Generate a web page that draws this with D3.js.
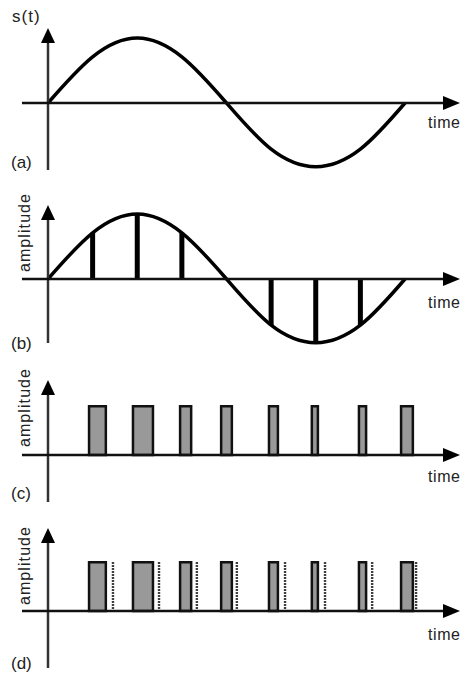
<html lang="en">
<head>
<meta charset="UTF-8">
<title>Sampling</title>
<style>
  body { margin: 0; background: #fff; }
  svg text { font-family: "Liberation Sans", Arial, sans-serif; fill: #222; }
</style>
</head>
<body>
<svg id="chart" width="465" height="675"></svg>
<script src="https://cdnjs.cloudflare.com/ajax/libs/d3/7.8.5/d3.min.js"></script>
<script>
// signal, one value per eighth of a period
var sampleTimes = [0, 0.125, 0.25, 0.375, 0.5, 0.625, 0.75, 0.875, 1];
var signalValues = [0, 0.71, 1, 0.71, 0, -0.71, -0.98, -0.71, 0];

// pulse trains (c) and (d): start / end time and level
var pulseStart = [0.115, 0.238, 0.370, 0.485, 0.619, 0.739, 0.871, 0.989];
var pulseEnd   = [0.162, 0.294, 0.401, 0.515, 0.644, 0.756, 0.891, 1.022];
var pulseLevel = [0.75, 0.75, 0.75, 0.75, 0.75, 0.75, 0.75, 0.75];
// dotted markers in (d)
var markerTime = [0.182, 0.311, 0.417, 0.529, 0.664, 0.776, 0.908, 1.031];

var panelLabels = ["(a)", "(b)", "(c)", "(d)"];
var yTitles = ["s(t)", "amplitude", "amplitude", "amplitude"];
var xTitle = "time";

var svg = d3.select("#chart");
var x = d3.scaleLinear().domain([0, 1]).range([48, 405]);

// layout of the four panels
var panels = [
    { zero: 103, top: 28,  bottom: 170, timeY: 128, labelY: 168 },
    { zero: 279, top: 205, bottom: 343, timeY: 308, labelY: 349 },
    { zero: 455, top: 380, bottom: 502, timeY: 482, labelY: 499 },
    { zero: 611, top: 528, bottom: 668, timeY: 640, labelY: 669 }
];

var pts = sampleTimes.map(function(t, i) { return { t: t, v: signalValues[i] }; });
var pulses = pulseStart.map(function(s, i) { return { s: s, e: pulseEnd[i], v: pulseLevel[i] }; });

panels.forEach(function(p, idx) {
    var y = d3.scaleLinear().domain([-1, 1]).range([p.zero + 65, p.zero - 65]);
    var g = svg.append("g");

    // content first, axes drawn over it
    if (idx < 2) {
        var line = d3.line()
            .x(function(d) { return x(d.t); })
            .y(function(d) { return y(d.v); })
            .curve(d3.curveNatural);
        if (idx == 1) {
            g.selectAll(".stem")
                .data(pts.filter(function(d) { return Math.abs(d.v) > 0.01; }))
                .enter().append("line")
                .attr("x1", function(d) { return x(d.t); })
                .attr("x2", function(d) { return x(d.t); })
                .attr("y1", y(0))
                .attr("y2", function(d) { return y(d.v); })
                .attr("stroke", "#000")
                .attr("stroke-width", 5);
        }
        g.append("path")
            .attr("d", line(pts))
            .attr("fill", "none")
            .attr("stroke", "#000")
            .attr("stroke-width", 3.5);
    } else {
        if (idx == 3) {
            g.selectAll(".dots")
                .data(markerTime)
                .enter().append("line")
                .attr("x1", function(d) { return x(d); })
                .attr("x2", function(d) { return x(d); })
                .attr("y1", y(0.75))
                .attr("y2", y(0))
                .attr("stroke", "#000")
                .attr("stroke-width", 2.4)
                .attr("stroke-dasharray", "1.5,1.5");
        }
        g.selectAll(".pulse")
            .data(pulses)
            .enter().append("rect")
            .attr("x", function(d) { return x(d.s); })
            .attr("y", function(d) { return y(d.v); })
            .attr("width", function(d) { return x(d.e) - x(d.s); })
            .attr("height", function(d) { return y(0) - y(d.v); })
            .attr("fill", "#999")
            .attr("stroke", "#111")
            .attr("stroke-width", 2.5);
    }

    // vertical axis with arrow
    g.append("line")
        .attr("x1", 48).attr("x2", 48)
        .attr("y1", p.bottom).attr("y2", p.top + 10)
        .attr("stroke", "#333").attr("stroke-width", 2.5);
    g.append("path")
        .attr("d", "M48," + p.top + "L41," + (p.top + 15) + "L55," + (p.top + 15) + "Z")
        .attr("fill", "#000");

    // horizontal axis with arrow
    g.append("line")
        .attr("x1", 22).attr("x2", 450)
        .attr("y1", p.zero).attr("y2", p.zero)
        .attr("stroke", "#111").attr("stroke-width", 2.5);
    g.append("path")
        .attr("d", "M460," + p.zero + "L443," + (p.zero - 7) + "L443," + (p.zero + 7) + "Z")
        .attr("fill", "#000");

    // texts
    g.append("text")
        .attr("x", 428).attr("y", p.timeY)
        .attr("font-size", 16)
        .attr("textLength", 32)
        .text(xTitle);
    g.append("text")
        .attr("x", 11).attr("y", p.labelY)
        .attr("font-size", 17)
        .text(panelLabels[idx]);

    if (idx == 0) {
        g.append("text")
            .attr("x", 12).attr("y", 22)
            .attr("font-size", 17)
            .attr("letter-spacing", 1)
            .text(yTitles[idx]);
    } else {
        var cy = [0, 233, 408, 566][idx];
        g.append("text")
            .attr("transform", "translate(30," + cy + ") rotate(-90)")
            .attr("text-anchor", "middle")
            .attr("font-size", 16)
            .attr("textLength", 78)
            .text(yTitles[idx]);
    }
});
</script>
</body>
</html>
